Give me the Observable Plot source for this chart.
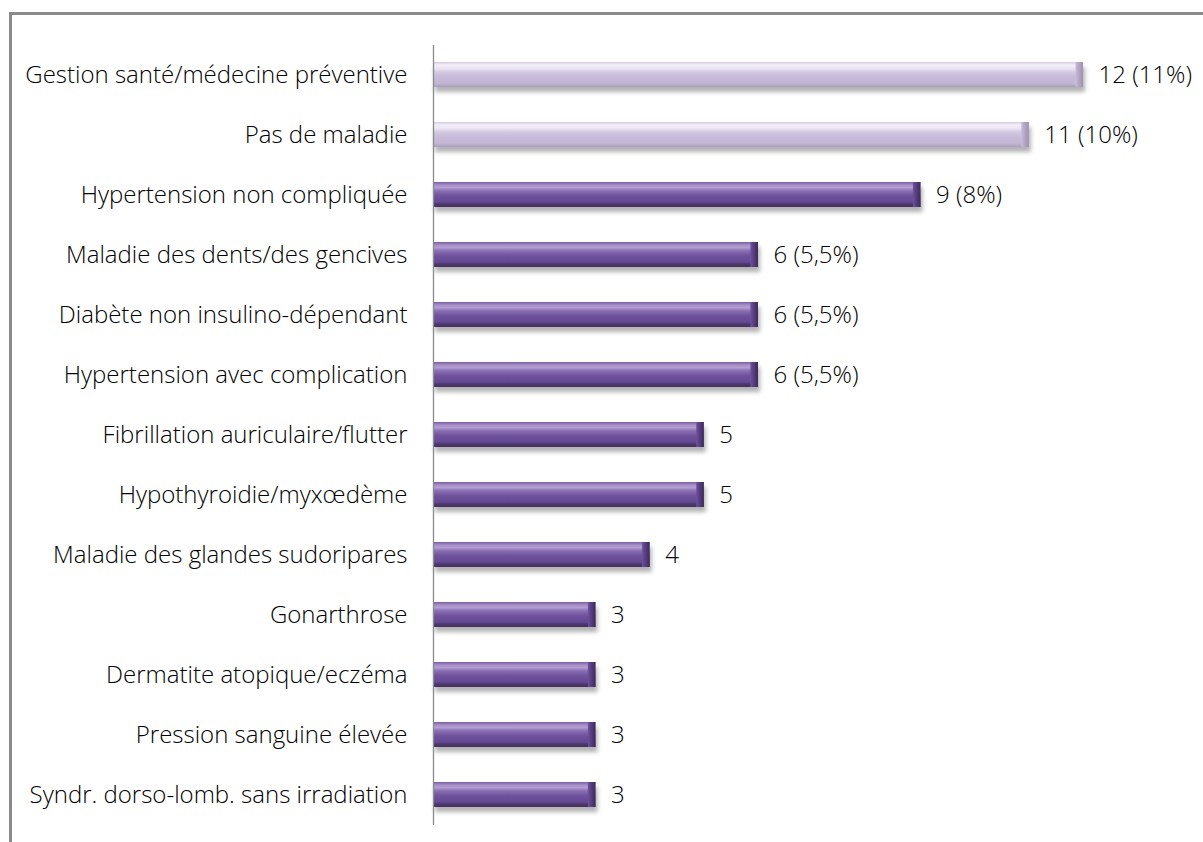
<!DOCTYPE html>
<html><head><meta charset="utf-8">
<script src="https://cdn.jsdelivr.net/npm/d3@7"></script>
<script src="https://cdn.jsdelivr.net/npm/@observablehq/plot@0.6"></script>
<style>
body{margin:0;background:#fff;}
#wrap{position:relative;width:1203px;height:842px;overflow:hidden;background:#fff;}
#frame{position:absolute;left:9px;top:12px;width:1300px;height:900px;border-left:3px solid #8a8a8a;border-top:3px solid #8a8a8a;}
#chart{position:absolute;left:0;top:0;}
</style></head><body>
<div id="wrap"><div id="frame"></div><div id="chart"></div></div>
<script>
const categories = [
  "Gestion santé/médecine préventive",
  "Pas de maladie",
  "Hypertension non compliquée",
  "Maladie des dents/des gencives",
  "Diabète non insulino-dépendant",
  "Hypertension avec complication",
  "Fibrillation auriculaire/flutter",
  "Hypothyroidie/myxœdème",
  "Maladie des glandes sudoripares",
  "Gonarthrose",
  "Dermatite atopique/eczéma",
  "Pression sanguine élevée",
  "Syndr. dorso-lomb. sans irradiation"
];
const counts = [12, 11, 9, 6, 6, 6, 5, 5, 4, 3, 3, 3, 3];
const valueLabels = ["12 (11%)", "11 (10%)", "9 (8%)", "6 (5,5%)", "6 (5,5%)", "6 (5,5%)", "5", "5", "4", "3", "3", "3", "3"];
const groups = ["light", "light", "dark", "dark", "dark", "dark", "dark", "dark", "dark", "dark", "dark", "dark", "dark"];

const data = categories.map((c, i) => ({cat: c, v: counts[i], label: valueLabels[i], g: groups[i]}));
const font = "'Open Sans', sans-serif";
const fs = 24;

const chart = Plot.plot({
  width: 1203,
  height: 842,
  marginLeft: 433,
  marginRight: 120,
  marginTop: 45,
  marginBottom: 17,
  style: {fontFamily: font, fontSize: fs + "px", color: "#000", background: "transparent"},
  x: {domain: [0, 12], axis: null},
  y: {domain: categories, paddingInner: 0.58, paddingOuter: 0.29, label: null, axis: null},
  marks: [
    Plot.barX(data, {y: "cat", x: "v", fill: d => d.g === "light" ? "url(#gradLight)" : "url(#gradDark)"}),
    Plot.barX(data, {y: "cat", x1: d => d.v - 0.14, x2: "v", fill: d => d.g === "light" ? "url(#capLight)" : "url(#capDark)"}),
    Plot.ruleX([0], {stroke: "#8a8a8a", strokeWidth: 1.3}),
    Plot.text(data, {y: "cat", x: "v", text: "label", dx: 15, textAnchor: "start", fontSize: fs, fill: "#000", fontWeight: 300}),
    Plot.axisY({tickSize: 0, tickPadding: 26, fontSize: fs, label: null, fontWeight: 300, fill: "#000"})
  ]
});

const svg = d3.select(chart);
const defs = svg.insert("defs", ":first-child");
function grad(id, stops, vertical = true) {
  const g = defs.append("linearGradient").attr("id", id)
    .attr("x1", 0).attr("y1", 0).attr("x2", vertical ? 0 : 1).attr("y2", vertical ? 1 : 0);
  stops.forEach(([o, c]) => g.append("stop").attr("offset", o).attr("stop-color", c));
}
grad("gradDark", [[0, "#7a5ca8"], [0.12, "#a68ec6"], [0.22, "#b39fcf"], [0.35, "#8a6fb5"], [0.55, "#6e529b"], [0.8, "#654994"], [0.88, "#4d376d"], [1, "#43305f"]]);
grad("gradLight", [[0, "#d3c9e2"], [0.12, "#f3eff8"], [0.25, "#ece6f3"], [0.4, "#d3c9e2"], [0.6, "#c7bbd9"], [0.85, "#c2b6d4"], [1, "#aa9ebe"]]);
grad("capDark", [[0, "#6e529b"], [0.35, "#5c4187"], [1, "#3d2a58"]], false);
grad("capLight", [[0, "#c9bddb"], [0.35, "#b8aacb"], [1, "#9d90b1"]], false);
const f = defs.append("filter").attr("id", "shadow").attr("x", "-5%").attr("y", "-30%").attr("width", "110%").attr("height", "200%");
f.append("feDropShadow").attr("dx", 2).attr("dy", 5).attr("stdDeviation", 2.2).attr("flood-color", "#000").attr("flood-opacity", 0.3);
svg.selectAll("g[aria-label='bar']").filter((d, i) => i === 0).attr("filter", "url(#shadow)");
document.getElementById("chart").appendChild(chart);
</script>
</body></html>
